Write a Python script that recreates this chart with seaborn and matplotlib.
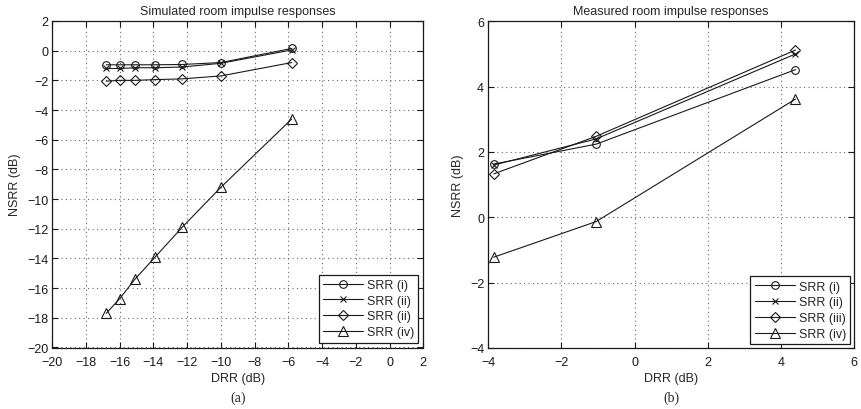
import matplotlib
matplotlib.use("Agg")
import matplotlib.pyplot as plt
import seaborn as sns
import pandas as pd

# ---------------- data ----------------
sim_drr = [-16.8, -16.0, -15.1, -13.9, -12.3, -10.0, -5.8]
sim_srr_i = [-0.95, -0.95, -0.95, -0.95, -0.93, -0.8, 0.15]
sim_srr_ii = [-1.2, -1.2, -1.15, -1.15, -1.1, -0.85, 0.05]
sim_srr_iii = [-2.05, -2.0, -2.0, -1.95, -1.9, -1.7, -0.8]
sim_srr_iv = [-17.7, -16.7, -15.4, -13.9, -11.9, -9.2, -4.6]

meas_drr = [-3.85, -1.05, 4.4]
meas_srr_i = [1.63, 2.24, 4.52]
meas_srr_ii = [1.6, 2.4, 5.0]
meas_srr_iii = [1.33, 2.48, 5.12]
meas_srr_iv = [-1.22, -0.13, 3.62]

left_labels = ["SRR (i)", "SRR (ii)", "SRR (ii)", "SRR (iv)"]
right_labels = ["SRR (i)", "SRR (ii)", "SRR (iii)", "SRR (iv)"]

left_xticks = list(range(-20, 3, 2))
left_yticks = list(range(-20, 3, 2))
right_xticks = list(range(-4, 7, 2))
right_yticks = list(range(-4, 7, 2))

titles = ["Simulated room impulse responses", "Measured room impulse responses"]
captions = ["(a)", "(b)"]
xlabel = "DRR (dB)"
ylabel = "NSRR (dB)"

# ---------------- style ----------------
sns.set_theme(style="white")
plt.rcParams["font.family"] = ["Liberation Sans", "DejaVu Sans"]
plt.rcParams["font.size"] = 9

markers = ["o", "x", "D", "^"]
msizes = [5.5, 5, 5, 6.5]

fig = plt.figure(figsize=(8.62, 4.10), dpi=100)
ax1 = fig.add_axes([52.3 / 862, 1 - 348.5 / 410, 371 / 862, 326.5 / 410])
ax2 = fig.add_axes([488.3 / 862, 1 - 349 / 410, 365.7 / 862, 326.7 / 410])


def draw(ax, x, ys, labels, xlim, ylim, xticks, yticks, title, caption, bax):
    for y, lab, m, ms in zip(ys, labels, markers, msizes):
        df = pd.DataFrame({"x": x, "y": y})
        sns.lineplot(data=df, x="x", y="y", ax=ax, color="k", marker=m,
                     markersize=ms, markerfacecolor="none", markeredgecolor="k",
                     markeredgewidth=0.8, linewidth=0.8, label=lab,
                     errorbar=None, sort=False)
    ax.set_xlim(*xlim)
    ax.set_ylim(*ylim)
    ax.set_xticks(xticks)
    ax.set_yticks(yticks)
    ax.set_xticklabels([str(t).replace("-", "\u2212") for t in xticks], fontsize=9)
    ax.set_yticklabels([str(t).replace("-", "\u2212") for t in yticks], fontsize=9)
    ax.grid(True, linestyle=(0, (1, 3)), color="0.4", linewidth=0.8)
    ax.tick_params(direction="in", length=4, width=0.8, top=True, right=True,
                   bottom=True, left=True, colors="k")
    ax.tick_params(axis="x", pad=6)
    ax.tick_params(axis="y", pad=3)
    for s in ax.spines.values():
        s.set_visible(True)
        s.set_color("k")
        s.set_linewidth(0.9)
    ax.set_xlabel(xlabel, fontsize=9, labelpad=3)
    ax.set_ylabel(ylabel, fontsize=9, labelpad=4)
    ax.set_title(title, fontsize=9, pad=5)
    leg = ax.legend(loc="lower right", fontsize=9, frameon=True, fancybox=False,
                    edgecolor="k", framealpha=1, handlelength=3.2,
                    borderpad=0.35, labelspacing=0.3, handletextpad=0.3,
                    borderaxespad=bax)
    leg.get_frame().set_linewidth(0.9)
    ax.text(0.5, -0.152, caption, transform=ax.transAxes, ha="center", va="center",
            fontsize=10, family=["Liberation Serif", "DejaVu Serif"])


draw(ax1, sim_drr, [sim_srr_i, sim_srr_ii, sim_srr_iii, sim_srr_iv], left_labels,
     (-20, 2), (-20, 2), left_xticks, left_yticks, titles[0], captions[0], 0.4)
draw(ax2, meas_drr, [meas_srr_i, meas_srr_ii, meas_srr_iii, meas_srr_iv], right_labels,
     (-4, 6), (-4, 6), right_xticks, right_yticks, titles[1], captions[1], 0.3)

fig.savefig("out.png", dpi=100, facecolor="white")
